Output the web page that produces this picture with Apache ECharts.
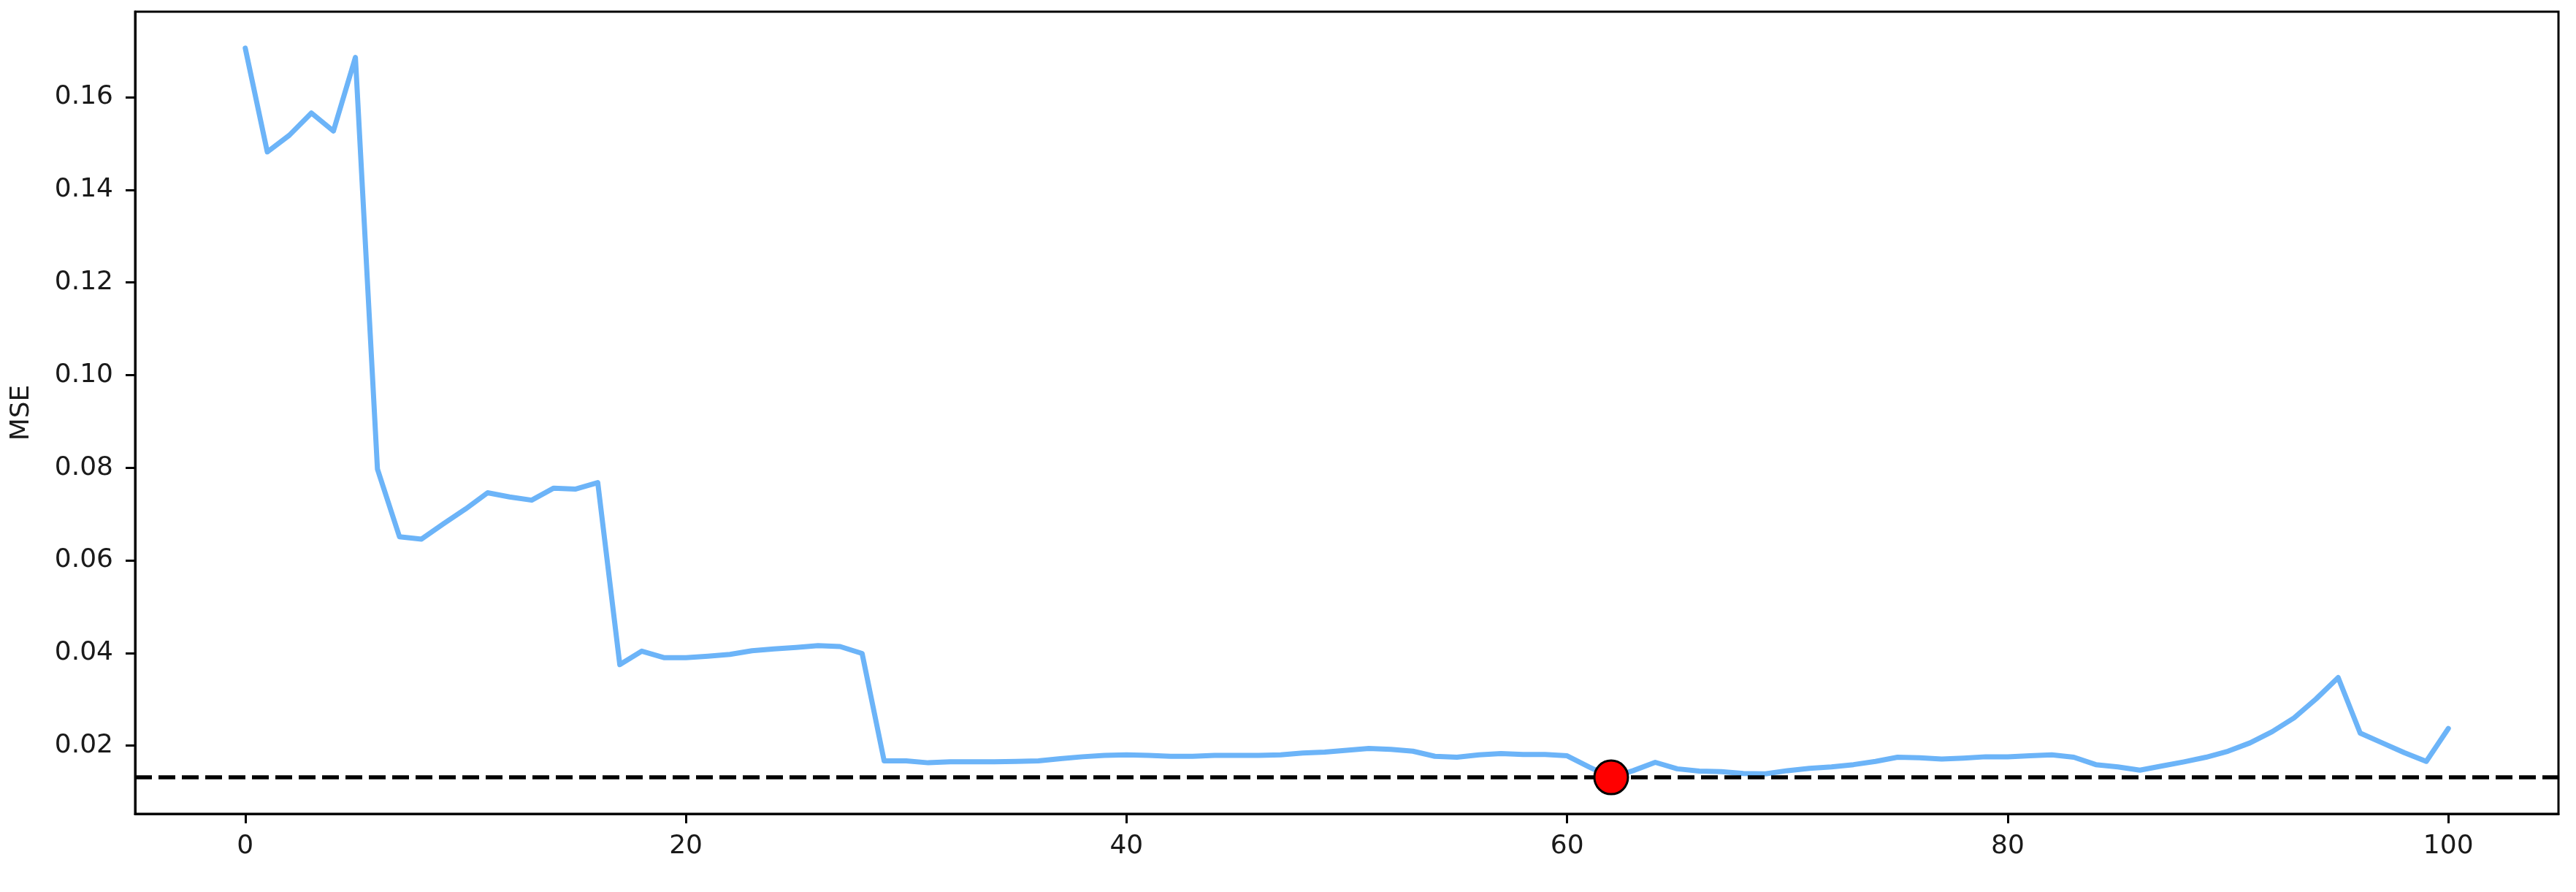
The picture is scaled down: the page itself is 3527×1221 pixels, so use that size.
<!DOCTYPE html>
<html>
<head>
<meta charset="utf-8">
<script src="https://cdn.jsdelivr.net/npm/echarts@6/dist/echarts.min.js"></script>
<style>
html,body{margin:0;padding:0;background:#fff;}
#chart{width:3527px;height:1221px;}
</style>
</head>
<body>
<div id="chart"></div>
<script>
// ---- data ----
const mseValues = [
  0.1706, 0.1482, 0.1518, 0.1566, 0.1527, 0.1686, 0.0797, 0.0651, 0.0646, 0.0679,
  0.0711, 0.0746, 0.0737, 0.0730, 0.0756, 0.0754, 0.0768, 0.0375, 0.0404, 0.0390,
  0.0390, 0.0393, 0.0397, 0.0405, 0.0409, 0.0412, 0.0416, 0.0414, 0.0399, 0.0167,
  0.0167, 0.0163, 0.0165, 0.0165, 0.0165, 0.0166, 0.0167, 0.0172, 0.0176, 0.0179,
  0.0180, 0.0179, 0.0177, 0.0177, 0.0179, 0.0179, 0.0179, 0.0180, 0.0184, 0.0186,
  0.0190, 0.0194, 0.0192, 0.0188, 0.0177, 0.0175, 0.0180, 0.0183, 0.0181, 0.0181,
  0.0178, 0.0154, 0.01315, 0.0146, 0.0164, 0.0150, 0.0145, 0.0144, 0.0140, 0.0139,
  0.0146, 0.0151, 0.0154, 0.0159, 0.0166, 0.0175, 0.0174, 0.0171, 0.0173, 0.0176,
  0.0176, 0.0178, 0.0180, 0.0175, 0.0159, 0.0154, 0.0147, 0.0156, 0.0165, 0.0175,
  0.0188, 0.0206, 0.0230, 0.0260, 0.0301, 0.0347, 0.0227, 0.0206, 0.0185, 0.0166,
  0.0237
];
const xIndex = mseValues.map((_, i) => i);
const minIndex = 62;
const minMSE = 0.01315;
const xTickValues = [0, 20, 40, 60, 80, 100];
const yTickValues = [0.02, 0.04, 0.06, 0.08, 0.10, 0.12, 0.14, 0.16];
const yAxisName = 'MSE';

// matplotlib-like autoscale limits (5% margins)
const xMin = -5, xMax = 105;
const dMax = Math.max(...mseValues), dMin = Math.min(...mseValues, minMSE);
const yPad = (dMax - dMin) * 0.05;
const yMin = dMin - yPad, yMax = dMax + yPad;

const FONT = 'DejaVu Sans';
const chart = echarts.init(document.getElementById('chart'), null, {renderer: 'canvas'});
chart.setOption({
  animation: false,
  backgroundColor: '#ffffff',
  grid: {
    left: 185, right: 24, top: 16, bottom: 107,
    show: true, borderColor: '#000', borderWidth: 3, backgroundColor: 'transparent'
  },
  xAxis: {
    type: 'value', min: xMin, max: xMax,
    axisLine: {show: true, onZero: false, lineStyle: {color: '#000', width: 3}},
    axisTick: {show: true, customValues: xTickValues, length: 13, lineStyle: {color: '#000', width: 3}},
    axisLabel: {show: true, customValues: xTickValues, margin: 27, color: '#1a1a1a', fontFamily: FONT, fontSize: 36},
    splitLine: {show: false}
  },
  yAxis: {
    type: 'value', min: yMin, max: yMax,
    name: yAxisName, nameLocation: 'middle', nameRotate: 90, nameGap: 137,
    nameTextStyle: {color: '#1a1a1a', fontFamily: FONT, fontSize: 36},
    axisLine: {show: true, onZero: false, lineStyle: {color: '#000', width: 3}},
    axisTick: {show: true, customValues: yTickValues, length: 13, lineStyle: {color: '#000', width: 3}},
    axisLabel: {show: true, customValues: yTickValues, margin: 30, color: '#1a1a1a', fontFamily: FONT, fontSize: 36,
      formatter: v => v.toFixed(2)},
    splitLine: {show: false}
  },
  series: [
    {
      type: 'line',
      data: xIndex.map((x, i) => [x, mseValues[i]]),
      showSymbol: false, symbol: 'none',
      lineStyle: {color: '#6cb4f8', width: 7, join: 'round', cap: 'round'},
      z: 2
    },
    {
      type: 'line',
      data: [[xMin, minMSE], [xMax, minMSE]],
      showSymbol: false, symbol: 'none', silent: true,
      lineStyle: {color: '#000', width: 5.5, type: [23, 9]},
      z: 3
    },
    {
      type: 'scatter',
      data: [[minIndex, minMSE]],
      symbol: 'circle', symbolSize: 46,
      itemStyle: {color: '#ff0000', borderColor: '#000', borderWidth: 3, opacity: 1},
      z: 5
    }
  ]
});
</script>
</body>
</html>
